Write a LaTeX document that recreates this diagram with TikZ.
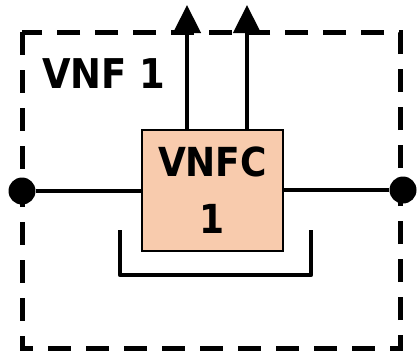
\documentclass[tikz,border=0pt]{standalone}
\usepackage{fontspec}
\setmainfont{DejaVu Sans Condensed}
\usetikzlibrary{arrows.meta,positioning}
\definecolor{vnfink}{HTML}{000000}
\definecolor{vnfcfill}{HTML}{F8CBAD}
\tikzset{
  vnflabel/.style={font=\fontsize{41}{50}\selectfont\bfseries, text=vnfink, anchor=base west, inner sep=0pt},
  vnfcbox/.style={draw=vnfink, fill=vnfcfill, line width=2pt, minimum width=141pt,
    minimum height=121pt, inner sep=0pt, align=center,
    font=\fontsize{40}{57}\selectfont\bfseries},
  vnfborder/.style={draw=vnfink, line width=5pt, dash pattern=on 23pt off 15pt},
  portdot/.style={circle, fill=vnfink, minimum size=27pt, inner sep=0pt},
  linkline/.style={draw=vnfink, line width=4.5pt},
  outflow/.style={-{Triangle[length=28pt,width=27pt]}, draw=vnfink, line width=4.5pt}
}
\begin{document}
\begin{tikzpicture}[x=1pt,y=-1pt]
  \useasboundingbox (0,0) rectangle (418,354);
  % outer VNF frame
  \draw[vnfborder] (22,32) rectangle (400,348);
  \node[vnflabel] (vnfname) at (42,88) {VNF 1};

  \node[vnfcbox] (vnfc) at (212.5,190.5) {VNFC\\1};
  \node[portdot] (inport) at (22,191) {};
  \node[portdot] (outport) at (403,190) {};
  \draw[linkline] (inport) -- (vnfc.west |- inport);
  \draw[linkline] (vnfc.east |- outport) -- (outport);

  \coordinate (outa) at (187,5);
  \coordinate (outb) at (247,5);
  \draw[outflow] (vnfc.north -| outa) -- (outa);
  \draw[outflow] (vnfc.north -| outb) -- (outb);

  % bracket under the VNFC
  \draw[linkline, line join=round] (120,230) -- (120,275) -- (311,275) -- (311,230);
\end{tikzpicture}
\end{document}
